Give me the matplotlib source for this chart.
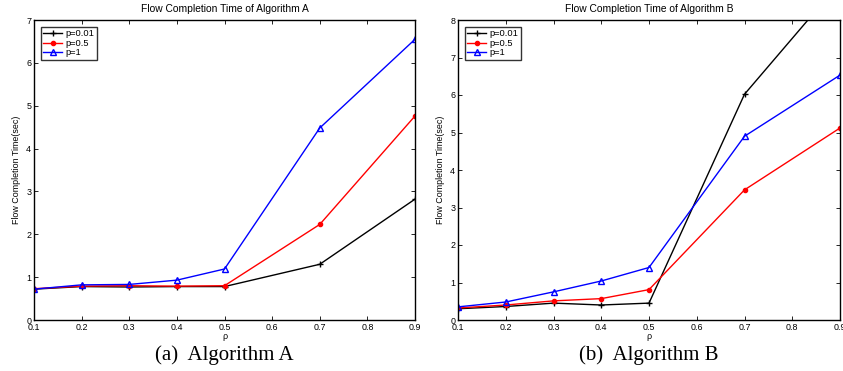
import numpy as np
import matplotlib
matplotlib.use('Agg')
import matplotlib.pyplot as plt

plt.rcParams['font.family'] = 'sans-serif'
plt.rcParams['font.sans-serif'] = ['Liberation Sans', 'DejaVu Sans']
plt.rcParams['xtick.direction'] = 'in'
plt.rcParams['ytick.direction'] = 'in'

rho = [0.1, 0.2, 0.3, 0.4, 0.5, 0.7, 0.9]
labels = ['p=0.01', 'p=0.5', 'p=1']

# Algorithm A
a_p001 = [0.72, 0.78, 0.77, 0.78, 0.78, 1.30, 2.82]
a_p05 = [0.73, 0.79, 0.80, 0.79, 0.80, 2.23, 4.76]
a_p1 = [0.72, 0.82, 0.83, 0.93, 1.19, 4.48, 6.55]

# Algorithm B
b_p001 = [0.30, 0.36, 0.45, 0.40, 0.45, 6.02, 9.0]
b_p05 = [0.32, 0.40, 0.51, 0.57, 0.81, 3.47, 5.12]
b_p1 = [0.35, 0.48, 0.75, 1.04, 1.40, 4.90, 6.53]

fs = 6.4

fig = plt.figure(figsize=(8.43, 3.71), dpi=100)
ax1 = fig.add_axes([34/843., 51/371., 381/843., 300/371.])
ax2 = fig.add_axes([458/843., 51/371., 382/843., 300/371.])


def draw(ax, s1, s2, s3, ymax, title, caption):
    ax.plot(rho, s1, color='black', marker='+', ms=5, mew=1.0, lw=1.0, label=labels[0])
    ax.plot(rho, s2, color='red', marker='o', ms=3, lw=1.0, label=labels[1])
    ax.plot(rho, s3, color='blue', marker='^', ms=5, mfc='none', mew=1.0, lw=1.0, label=labels[2])
    ax.set_xlim(0.1, 0.9)
    ax.set_ylim(0, ymax)
    ax.set_xticks(np.arange(0.1, 0.95, 0.1))
    ax.set_xticklabels(['%.1f' % v for v in np.arange(0.1, 0.95, 0.1)])
    ax.set_yticks(np.arange(0, ymax + 1, 1))
    ax.tick_params(axis='both', top=True, right=True, labelsize=fs, length=3, width=0.6, pad=2)
    for sp in ax.spines.values():
        sp.set_linewidth(1.0)
    ax.set_title(title, fontsize=7.4, pad=6)
    ax.set_xlabel(u'\u03c1', fontsize=fs, labelpad=0)
    ax.set_ylabel('Flow Completion Time(sec)', fontsize=fs, labelpad=4)
    leg = ax.legend(loc='upper left', fontsize=fs + 0.3, frameon=True, fancybox=False,
                    edgecolor='black', handlelength=2.0, borderpad=0.3,
                    labelspacing=0.05, borderaxespad=0.7, handletextpad=0.4)
    leg.get_frame().set_linewidth(1.0)
    ax.text(0.5, -0.085, caption, transform=ax.transAxes, ha='center', va='top',
            fontsize=15, family='Liberation Serif')


draw(ax1, a_p001, a_p05, a_p1, 7, 'Flow Completion Time of Algorithm A', '(a)  Algorithm A')
draw(ax2, b_p001, b_p05, b_p1, 8, 'Flow Completion Time of Algorithm B', '(b)  Algorithm B')

fig.savefig('out.png', dpi=100)
